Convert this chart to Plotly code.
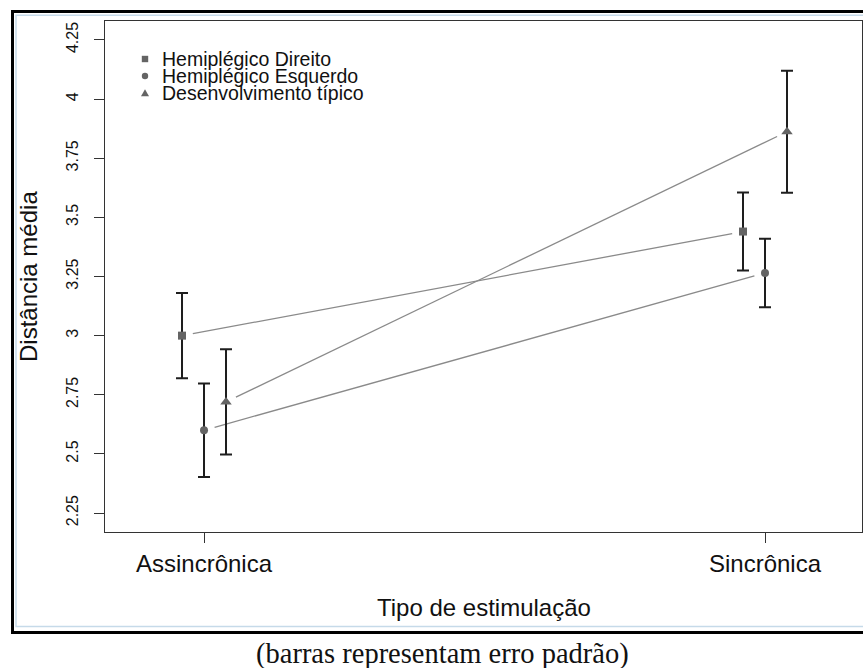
import plotly.graph_objects as go

# ---- data ----
categories = ["Assincrônica", "Sincrônica"]
groups = ["Hemiplégico Direito", "Hemiplégico Esquerdo", "Desenvolvimento típico"]
hd_mean = [3.00, 3.44]
hd_se = [0.18, 0.165]
he_mean = [2.60, 3.265]
he_se = [0.198, 0.145]
dt_mean = [2.72, 3.862]
dt_se = [0.222, 0.258]
y_tickvals = [2.25, 2.5, 2.75, 3.0, 3.25, 3.5, 3.75, 4.0, 4.25]
y_ticktext = ["2.25", "2.5", "2.75", "3", "3.25", "3.5", "3.75", "4", "4.25"]

# ---- layout geometry ----
W, H = 863, 668
L, R, T, B = 105, 1, 21, 136
PW, PH = W - L - R, H - T - B
XR = [-0.1765, 1.1729]
YR = [2.17, 4.33]
px_x = PW / (XR[1] - XR[0])
px_y = PH / (YR[1] - YR[0])
dodge = 22 / px_x
gap = 11.0

def pfx(px):
    return (px - L) / PW

def pfy(py):
    return (T + PH - py) / PH

series = [
    (groups[0], hd_mean, hd_se, "square", 8, -dodge),
    (groups[1], he_mean, he_se, "circle", 8, 0.0),
    (groups[2], dt_mean, dt_se, "triangle-up", 10, dodge),
]

fig = go.Figure()
for name, m, se, sym, sz, off in series:
    xs = [i + off for i in range(len(categories))]
    # connecting line with small gaps near the points
    dxp = (xs[1] - xs[0]) * px_x
    dyp = (m[1] - m[0]) * px_y
    ln = (dxp ** 2 + dyp ** 2) ** 0.5
    fx = gap / ln
    lx = [xs[0] + (xs[1] - xs[0]) * fx, xs[1] - (xs[1] - xs[0]) * fx]
    ly = [m[0] + (m[1] - m[0]) * fx, m[1] - (m[1] - m[0]) * fx]
    fig.add_trace(go.Scatter(x=lx, y=ly, mode="lines",
                             line=dict(color="#8a8a8a", width=1.3),
                             showlegend=False, hoverinfo="skip"))
    fig.add_trace(go.Scatter(
        x=xs, y=m, mode="markers", name=name, showlegend=False,
        marker=dict(symbol=sym, size=sz, color="#646464", line=dict(width=0)),
        error_y=dict(type="data", array=se, symmetric=True,
                     color="#1e1e1e", thickness=2, width=6)))

font_sans = "Liberation Sans, Arial, sans-serif"

fig.update_layout(
    width=W, height=H,
    margin=dict(l=L, r=R, t=T, b=B, pad=0),
    paper_bgcolor="white", plot_bgcolor="white",
    font=dict(family=font_sans, color="#111111"),
    showlegend=False,
    xaxis=dict(range=XR, tickmode="array", tickvals=[0, 1], ticktext=categories,
               showgrid=False, zeroline=False, showline=True, mirror=True,
               linecolor="#333333", linewidth=1, ticks="outside", ticklen=10,
               tickwidth=1, tickcolor="#333333",
               tickfont=dict(size=24, family=font_sans, color="#111111"),
               automargin=False, ticklabelstandoff=0),
    yaxis=dict(range=YR, tickmode="array", tickvals=y_tickvals, ticktext=y_ticktext,
               showgrid=False, zeroline=False, showline=True, mirror=True,
               linecolor="#333333", linewidth=1, ticks="outside", ticklen=10,
               tickwidth=1, tickcolor="#333333", tickangle=-90,
               tickfont=dict(size=16, family=font_sans, color="#111111"),
               automargin=False, ticklabelstandoff=10),
)

annotations = [
    dict(text="Distância média", x=pfx(28), y=pfy(277), xref="paper", yref="paper",
         textangle=-90, showarrow=False, xanchor="center", yanchor="middle",
         font=dict(size=24, family=font_sans, color="#111111")),
    dict(text="Tipo de estimulação", x=pfx(484), y=pfy(607), xref="paper", yref="paper",
         showarrow=False, xanchor="center", yanchor="middle",
         font=dict(size=24, family=font_sans, color="#111111")),
    dict(text="(barras representam erro padrão)", x=pfx(442), y=pfy(654),
         xref="paper", yref="paper", showarrow=False, xanchor="center", yanchor="middle",
         font=dict(size=28.5, family="Liberation Serif, Times New Roman, serif", color="#111111")),
]
leg_rows = [59, 76, 93]
for name, row in zip(groups, leg_rows):
    annotations.append(dict(text=name, x=pfx(160), y=pfy(row), xref="paper", yref="paper",
                            showarrow=False, xanchor="left", yanchor="middle",
                            font=dict(size=19.5, family=font_sans, color="#111111")))

shapes = [
    # outer black frame
    dict(type="rect", xref="paper", yref="paper", x0=pfx(12.5), x1=pfx(880),
         y0=pfy(632.5), y1=pfy(11.5), line=dict(color="black", width=3)),
    # light blue inner frame
    dict(type="rect", xref="paper", yref="paper", x0=pfx(16), x1=pfx(880),
         y0=pfy(626.5), y1=pfy(15.2), line=dict(color="#c6dae9", width=1.5)),
]
# legend symbols
mx = 145
s = 3.2
shapes.append(dict(type="rect", xref="paper", yref="paper", x0=pfx(mx - s), x1=pfx(mx + s),
                   y0=pfy(leg_rows[0] + s), y1=pfy(leg_rows[0] - s),
                   fillcolor="#646464", line=dict(width=0)))
shapes.append(dict(type="circle", xref="paper", yref="paper", x0=pfx(mx - s), x1=pfx(mx + s),
                   y0=pfy(leg_rows[1] + s), y1=pfy(leg_rows[1] - s),
                   fillcolor="#646464", line=dict(width=0)))
ty = leg_rows[2]
shapes.append(dict(type="path", xref="paper", yref="paper",
                   path=f"M {pfx(mx-4)} {pfy(ty+3.3)} L {pfx(mx+4)} {pfy(ty+3.3)} L {pfx(mx)} {pfy(ty-3.8)} Z",
                   fillcolor="#646464", line=dict(width=0)))

fig.update_layout(annotations=annotations, shapes=shapes)
fig.write_html("out.html", config={"displayModeBar": False},
               post_script="document.body.style.margin='0';document.body.style.overflow='hidden';")
